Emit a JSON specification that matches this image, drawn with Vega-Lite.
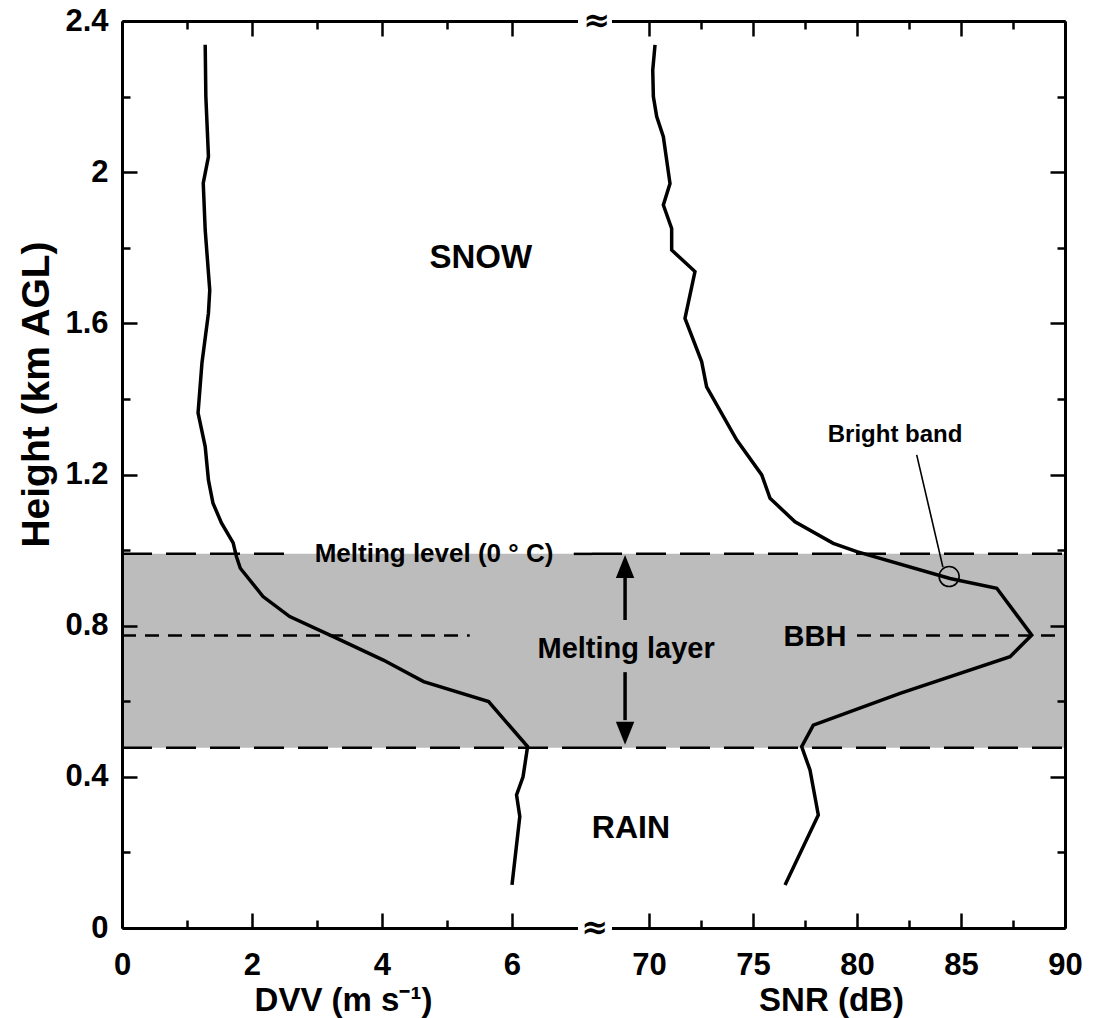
{
  "$schema": "https://vega.github.io/schema/vega-lite/v6.json",
  "width": 943,
  "height": 907,
  "autosize": {"type": "none"},
  "padding": {"left": 122, "top": 21, "right": 30, "bottom": 90},
  "background": "white",
  "config": {
    "view": {"stroke": null},
    "axis": {
      "labelFont": "Liberation Sans", "labelFontWeight": "bold", "labelFontSize": 31, "labelColor": "black",
      "titleFont": "Liberation Sans", "titleFontWeight": "bold", "titleFontSize": 33, "titleColor": "black",
      "domainColor": "black", "domainWidth": 3, "tickColor": "black", "tickWidth": 2.5,
      "grid": false, "labelFlush": false, "labelOverlap": false
    }
  },
  "resolve": {"scale": {"x": "independent", "y": "independent"}, "axis": {"x": "independent", "y": "independent"}},
  "layer": [
    {
      "data": {"values": [{"x0": 0, "x1": 7.25, "y0": 0.477, "y1": 0.99}]},
      "mark": {"type": "rect", "fill": "#bcbcbc"},
      "encoding": {
        "x": {"field": "x0", "type": "quantitative", "scale": {"domain": [0, 7.2308], "range": [0, 470], "nice": false, "zero": false},
          "axis": {"orient": "top", "values": [0, 1, 2, 3, 4, 5, 6], "labels": false, "title": null,
            "tickSize": {"condition": {"test": "datum.value % 2 == 1", "value": -8}, "value": -15}}},
        "x2": {"field": "x1"},
        "y": {"field": "y0", "type": "quantitative", "scale": {"domain": [0, 2.4], "nice": false, "zero": false}, "axis": null},
        "y2": {"field": "y1"}
      }
    },
    {
      "data": {"values": [{"x0": 67.26, "x1": 90, "y0": 0.477, "y1": 0.99}]},
      "mark": {"type": "rect", "fill": "#bcbcbc"},
      "encoding": {
        "x": {"field": "x0", "type": "quantitative", "scale": {"domain": [67.26, 90], "range": [470, 943], "nice": false, "zero": false},
          "axis": {"orient": "top", "values": [70, 72.5, 75, 77.5, 80, 82.5, 85, 87.5, 90], "labels": false, "title": null,
            "tickSize": {"condition": {"test": "datum.value % 5 != 0", "value": -8}, "value": -15}}},
        "x2": {"field": "x1"},
        "y": {"field": "y0", "type": "quantitative", "scale": {"domain": [0, 2.4], "nice": false, "zero": false}, "axis": null},
        "y2": {"field": "y1"}
      }
    },
    {
      "data": {"values": [{"x0": 0, "x1": 2.5, "y": 0.99}, {"x0": 6.95, "x1": 7.2308, "y": 0.99}, {"x0": 0, "x1": 7.2308, "y": 0.477}]},
      "mark": {"type": "rule", "color": "black", "strokeWidth": 2.5, "strokeDash": [30, 14]},
      "encoding": {
        "x": {"field": "x0", "type": "quantitative", "scale": {"domain": [0, 7.2308], "range": [0, 470], "nice": false, "zero": false}, "axis": null},
        "x2": {"field": "x1"},
        "y": {"field": "y", "type": "quantitative", "scale": {"domain": [0, 2.4], "nice": false, "zero": false}, "axis": null}
      }
    },
    {
      "data": {"values": [{"x0": 67.26, "x1": 90, "y": 0.99}, {"x0": 67.26, "x1": 90, "y": 0.477}]},
      "mark": {"type": "rule", "color": "black", "strokeWidth": 2.5, "strokeDash": [30, 14]},
      "encoding": {
        "x": {"field": "x0", "type": "quantitative", "scale": {"domain": [67.26, 90], "range": [470, 943], "nice": false, "zero": false}, "axis": null},
        "x2": {"field": "x1"},
        "y": {"field": "y", "type": "quantitative", "scale": {"domain": [0, 2.4], "nice": false, "zero": false}, "axis": null}
      }
    },
    {
      "data": {"values": [{"x0": 0, "x1": 5.35, "y": 0.774}]},
      "mark": {"type": "rule", "color": "black", "strokeWidth": 2.5, "strokeDash": [14, 9]},
      "encoding": {
        "x": {"field": "x0", "type": "quantitative", "scale": {"domain": [0, 7.2308], "range": [0, 470], "nice": false, "zero": false}, "axis": null},
        "x2": {"field": "x1"},
        "y": {"field": "y", "type": "quantitative", "scale": {"domain": [0, 2.4], "nice": false, "zero": false}, "axis": null}
      }
    },
    {
      "data": {"values": [{"x0": 80.0, "x1": 90, "y": 0.774}]},
      "mark": {"type": "rule", "color": "black", "strokeWidth": 2.5, "strokeDash": [14, 9]},
      "encoding": {
        "x": {"field": "x0", "type": "quantitative", "scale": {"domain": [67.26, 90], "range": [470, 943], "nice": false, "zero": false}, "axis": null},
        "x2": {"field": "x1"},
        "y": {"field": "y", "type": "quantitative", "scale": {"domain": [0, 2.4], "nice": false, "zero": false}, "axis": null}
      }
    },
    {
      "data": {"values": [{"x0": 7.015, "x1": 7.2308, "y0": -0.012, "y1": 0.012}, {"x0": 7.015, "x1": 7.2308, "y0": 2.388, "y1": 2.412}]},
      "mark": {"type": "rect", "fill": "white"},
      "encoding": {
        "x": {"field": "x0", "type": "quantitative", "scale": {"domain": [0, 7.2308], "range": [0, 470], "nice": false, "zero": false}, "axis": null},
        "x2": {"field": "x1"},
        "y": {"field": "y0", "type": "quantitative", "scale": {"domain": [0, 2.4], "nice": false, "zero": false}, "axis": null},
        "y2": {"field": "y1"}
      }
    },
    {
      "data": {"values": [{"x0": 67.26, "x1": 68.22, "y0": -0.012, "y1": 0.012}, {"x0": 67.26, "x1": 68.22, "y0": 2.388, "y1": 2.412}]},
      "mark": {"type": "rect", "fill": "white"},
      "encoding": {
        "x": {"field": "x0", "type": "quantitative", "scale": {"domain": [67.26, 90], "range": [470, 943], "nice": false, "zero": false}, "axis": null},
        "x2": {"field": "x1"},
        "y": {"field": "y0", "type": "quantitative", "scale": {"domain": [0, 2.4], "nice": false, "zero": false}, "axis": null},
        "y2": {"field": "y1"}
      }
    },
    {
      "data": {"values": [
        {"v": 1.28, "h": 2.337}, {"v": 1.29, "h": 2.2}, {"v": 1.33, "h": 2.041}, {"v": 1.25, "h": 1.971},
        {"v": 1.28, "h": 1.847}, {"v": 1.35, "h": 1.688}, {"v": 1.33, "h": 1.627}, {"v": 1.23, "h": 1.495},
        {"v": 1.17, "h": 1.363}, {"v": 1.28, "h": 1.274}, {"v": 1.33, "h": 1.185}, {"v": 1.4, "h": 1.124},
        {"v": 1.53, "h": 1.072}, {"v": 1.71, "h": 1.019}, {"v": 1.76, "h": 0.983}, {"v": 1.82, "h": 0.952},
        {"v": 2.17, "h": 0.877}, {"v": 2.58, "h": 0.824}, {"v": 3.25, "h": 0.771}, {"v": 4.02, "h": 0.709},
        {"v": 4.64, "h": 0.652}, {"v": 5.64, "h": 0.599}, {"v": 6.24, "h": 0.48}, {"v": 6.17, "h": 0.4},
        {"v": 6.07, "h": 0.352}, {"v": 6.12, "h": 0.295}, {"v": 6.0, "h": 0.114}
      ]},
      "mark": {"type": "line", "color": "black", "strokeWidth": 3.5},
      "encoding": {
        "x": {"field": "v", "type": "quantitative", "scale": {"domain": [0, 7.2308], "range": [0, 470], "nice": false, "zero": false},
          "axis": {"orient": "bottom", "values": [0, 1, 2, 3, 4, 5, 6],
            "tickSize": {"condition": {"test": "datum.value % 2 == 1", "value": -8}, "value": -15},
            "labelExpr": "datum.value % 2 == 1 ? '' : format(datum.value, 'd')", "labelPadding": 37,
            "title": "DVV (m s⁻¹)", "titleX": 221, "titleY": 72, "titleBaseline": "middle", "titleAlign": "center"}},
        "y": {"field": "h", "type": "quantitative", "scale": {"domain": [0, 2.4], "nice": false, "zero": false},
          "axis": {"orient": "left", "values": [0, 0.2, 0.4, 0.6, 0.8, 1, 1.2, 1.4, 1.6, 1.8, 2, 2.2, 2.4],
            "tickSize": {"condition": {"test": "round(datum.value*10) % 4 == 2", "value": -8}, "value": -15},
            "labelExpr": "round(datum.value*10) % 4 == 2 ? '' : format(datum.value, '~g')", "labelPadding": 29,
            "title": "Height (km AGL)", "titleFontSize": 39, "titleX": -86, "titleY": 373, "titleBaseline": "middle", "titleAlign": "center", "titleAngle": -90, "zindex": 1}},
        "order": {"field": "h", "type": "quantitative"}
      }
    },
    {
      "data": {"values": [
        {"v": 70.29, "h": 2.337}, {"v": 70.18, "h": 2.27}, {"v": 70.21, "h": 2.2}, {"v": 70.37, "h": 2.147},
        {"v": 70.69, "h": 2.094}, {"v": 71.01, "h": 1.97}, {"v": 70.69, "h": 1.913}, {"v": 71.09, "h": 1.851},
        {"v": 71.09, "h": 1.794}, {"v": 72.21, "h": 1.737}, {"v": 71.73, "h": 1.613}, {"v": 72.53, "h": 1.499},
        {"v": 72.77, "h": 1.432}, {"v": 74.22, "h": 1.291}, {"v": 75.42, "h": 1.199}, {"v": 75.82, "h": 1.137},
        {"v": 77.02, "h": 1.075}, {"v": 78.86, "h": 1.018}, {"v": 79.99, "h": 0.996}, {"v": 84.47, "h": 0.925},
        {"v": 86.72, "h": 0.899}, {"v": 88.4, "h": 0.775}, {"v": 87.36, "h": 0.718}, {"v": 82.07, "h": 0.621},
        {"v": 77.9, "h": 0.537}, {"v": 77.34, "h": 0.48}, {"v": 77.74, "h": 0.418}, {"v": 78.14, "h": 0.299},
        {"v": 76.54, "h": 0.114}
      ]},
      "mark": {"type": "line", "color": "black", "strokeWidth": 3.5},
      "encoding": {
        "x": {"field": "v", "type": "quantitative", "scale": {"domain": [67.26, 90], "range": [470, 943], "nice": false, "zero": false},
          "axis": {"orient": "bottom", "values": [70, 72.5, 75, 77.5, 80, 82.5, 85, 87.5, 90],
            "tickSize": {"condition": {"test": "datum.value % 5 != 0", "value": -8}, "value": -15},
            "labelExpr": "datum.value % 5 != 0 ? '' : format(datum.value, 'd')", "labelPadding": 37,
            "title": "SNR (dB)", "titleX": 709, "titleY": 72, "titleBaseline": "middle", "titleAlign": "center"}},
        "y": {"field": "h", "type": "quantitative", "scale": {"domain": [0, 2.4], "nice": false, "zero": false},
          "axis": {"orient": "right", "values": [0, 0.2, 0.4, 0.6, 0.8, 1, 1.2, 1.4, 1.6, 1.8, 2, 2.2, 2.4],
            "tickSize": {"condition": {"test": "round(datum.value*10) % 4 == 2", "value": -8}, "value": -15},
            "labels": false, "title": null, "zindex": 1}},
        "order": {"field": "h", "type": "quantitative"}
      }
    },
    {
      "data": {"values": [{"x": 67.4, "y": 0, "t": "≈"}, {"x": 67.5, "y": 2.4, "t": "≈"}]},
      "mark": {"type": "text", "font": "DejaVu Sans", "fontSize": 32, "fontWeight": "bold", "align": "center", "baseline": "middle", "color": "black"},
      "encoding": {
        "x": {"field": "x", "type": "quantitative", "scale": {"domain": [67.26, 90], "range": [470, 943], "nice": false, "zero": false}, "axis": null},
        "y": {"field": "y", "type": "quantitative", "scale": {"domain": [0, 2.4], "nice": false, "zero": false}, "axis": null},
        "text": {"field": "t"}
      }
    },
    {
      "data": {"values": [{"x": 5.52, "y": 1.773, "t": "SNOW"}]},
      "mark": {"type": "text", "font": "Liberation Sans", "fontSize": 33, "fontWeight": "bold", "align": "center", "baseline": "middle", "color": "black"},
      "encoding": {
        "x": {"field": "x", "type": "quantitative", "scale": {"domain": [0, 7.2308], "range": [0, 470], "nice": false, "zero": false}, "axis": null},
        "y": {"field": "y", "type": "quantitative", "scale": {"domain": [0, 2.4], "nice": false, "zero": false}, "axis": null},
        "text": {"field": "t"}
      }
    },
    {
      "data": {"values": [{"x": 4.8, "y": 0.99, "t": "Melting level (0 ° C)"}]},
      "mark": {"type": "text", "font": "Liberation Sans", "fontSize": 26, "fontWeight": "bold", "align": "center", "baseline": "middle", "color": "black"},
      "encoding": {
        "x": {"field": "x", "type": "quantitative", "scale": {"domain": [0, 7.2308], "range": [0, 470], "nice": false, "zero": false}, "axis": null},
        "y": {"field": "y", "type": "quantitative", "scale": {"domain": [0, 2.4], "nice": false, "zero": false}, "axis": null},
        "text": {"field": "t"}
      }
    },
    {
      "data": {"values": [{"x": 69.13, "y": 0.264, "t": "RAIN"}]},
      "mark": {"type": "text", "font": "Liberation Sans", "fontSize": 32, "fontWeight": "bold", "align": "center", "baseline": "middle", "color": "black"},
      "encoding": {
        "x": {"field": "x", "type": "quantitative", "scale": {"domain": [67.26, 90], "range": [470, 943], "nice": false, "zero": false}, "axis": null},
        "y": {"field": "y", "type": "quantitative", "scale": {"domain": [0, 2.4], "nice": false, "zero": false}, "axis": null},
        "text": {"field": "t"}
      }
    },
    {
      "data": {"values": [{"x": 68.9, "y": 0.738, "t": "Melting layer"}, {"x": 77.98, "y": 0.771, "t": "BBH"}]},
      "mark": {"type": "text", "font": "Liberation Sans", "fontSize": 29, "fontWeight": "bold", "align": "center", "baseline": "middle", "color": "black"},
      "encoding": {
        "x": {"field": "x", "type": "quantitative", "scale": {"domain": [67.26, 90], "range": [470, 943], "nice": false, "zero": false}, "axis": null},
        "y": {"field": "y", "type": "quantitative", "scale": {"domain": [0, 2.4], "nice": false, "zero": false}, "axis": null},
        "text": {"field": "t"}
      }
    },
    {
      "data": {"values": [{"x": 81.83, "y": 1.305, "t": "Bright band"}]},
      "mark": {"type": "text", "font": "Liberation Sans", "fontSize": 24, "fontWeight": "bold", "align": "center", "baseline": "middle", "color": "black"},
      "encoding": {
        "x": {"field": "x", "type": "quantitative", "scale": {"domain": [67.26, 90], "range": [470, 943], "nice": false, "zero": false}, "axis": null},
        "y": {"field": "y", "type": "quantitative", "scale": {"domain": [0, 2.4], "nice": false, "zero": false}, "axis": null},
        "text": {"field": "t"}
      }
    },
    {
      "data": {"values": [{"x0": 82.87, "x1": 84.13, "y0": 1.252, "y1": 0.955}]},
      "mark": {"type": "rule", "color": "black", "strokeWidth": 1.6},
      "encoding": {
        "x": {"field": "x0", "type": "quantitative", "scale": {"domain": [67.26, 90], "range": [470, 943], "nice": false, "zero": false}, "axis": null},
        "x2": {"field": "x1"},
        "y": {"field": "y0", "type": "quantitative", "scale": {"domain": [0, 2.4], "nice": false, "zero": false}, "axis": null},
        "y2": {"field": "y1"}
      }
    },
    {
      "data": {"values": [{"x": 84.43, "y": 0.93}]},
      "mark": {"type": "point", "shape": "circle", "filled": false, "stroke": "black", "strokeWidth": 1.6, "size": 400, "opacity": 1},
      "encoding": {
        "x": {"field": "x", "type": "quantitative", "scale": {"domain": [67.26, 90], "range": [470, 943], "nice": false, "zero": false}, "axis": null},
        "y": {"field": "y", "type": "quantitative", "scale": {"domain": [0, 2.4], "nice": false, "zero": false}, "axis": null}
      }
    },
    {
      "data": {"values": [{"x": 68.85, "y0": 0.93, "y1": 0.815}, {"x": 68.85, "y0": 0.677, "y1": 0.55}]},
      "mark": {"type": "rule", "color": "black", "strokeWidth": 3.5},
      "encoding": {
        "x": {"field": "x", "type": "quantitative", "scale": {"domain": [67.26, 90], "range": [470, 943], "nice": false, "zero": false}, "axis": null},
        "y": {"field": "y0", "type": "quantitative", "scale": {"domain": [0, 2.4], "nice": false, "zero": false}, "axis": null},
        "y2": {"field": "y1"}
      }
    },
    {
      "data": {"values": [{"x": 68.85, "y": 0.9566}]},
      "mark": {"type": "point", "shape": "M0,-1L-0.8,1L0.8,1Z", "filled": true, "color": "black", "size": 529, "opacity": 1},
      "encoding": {
        "x": {"field": "x", "type": "quantitative", "scale": {"domain": [67.26, 90], "range": [470, 943], "nice": false, "zero": false}, "axis": null},
        "y": {"field": "y", "type": "quantitative", "scale": {"domain": [0, 2.4], "nice": false, "zero": false}, "axis": null}
      }
    },
    {
      "data": {"values": [{"x": 68.85, "y": 0.515}]},
      "mark": {"type": "point", "shape": "M0,1L-0.8,-1L0.8,-1Z", "filled": true, "color": "black", "size": 529, "opacity": 1},
      "encoding": {
        "x": {"field": "x", "type": "quantitative", "scale": {"domain": [67.26, 90], "range": [470, 943], "nice": false, "zero": false}, "axis": null},
        "y": {"field": "y", "type": "quantitative", "scale": {"domain": [0, 2.4], "nice": false, "zero": false}, "axis": null}
      }
    }
  ]
}
